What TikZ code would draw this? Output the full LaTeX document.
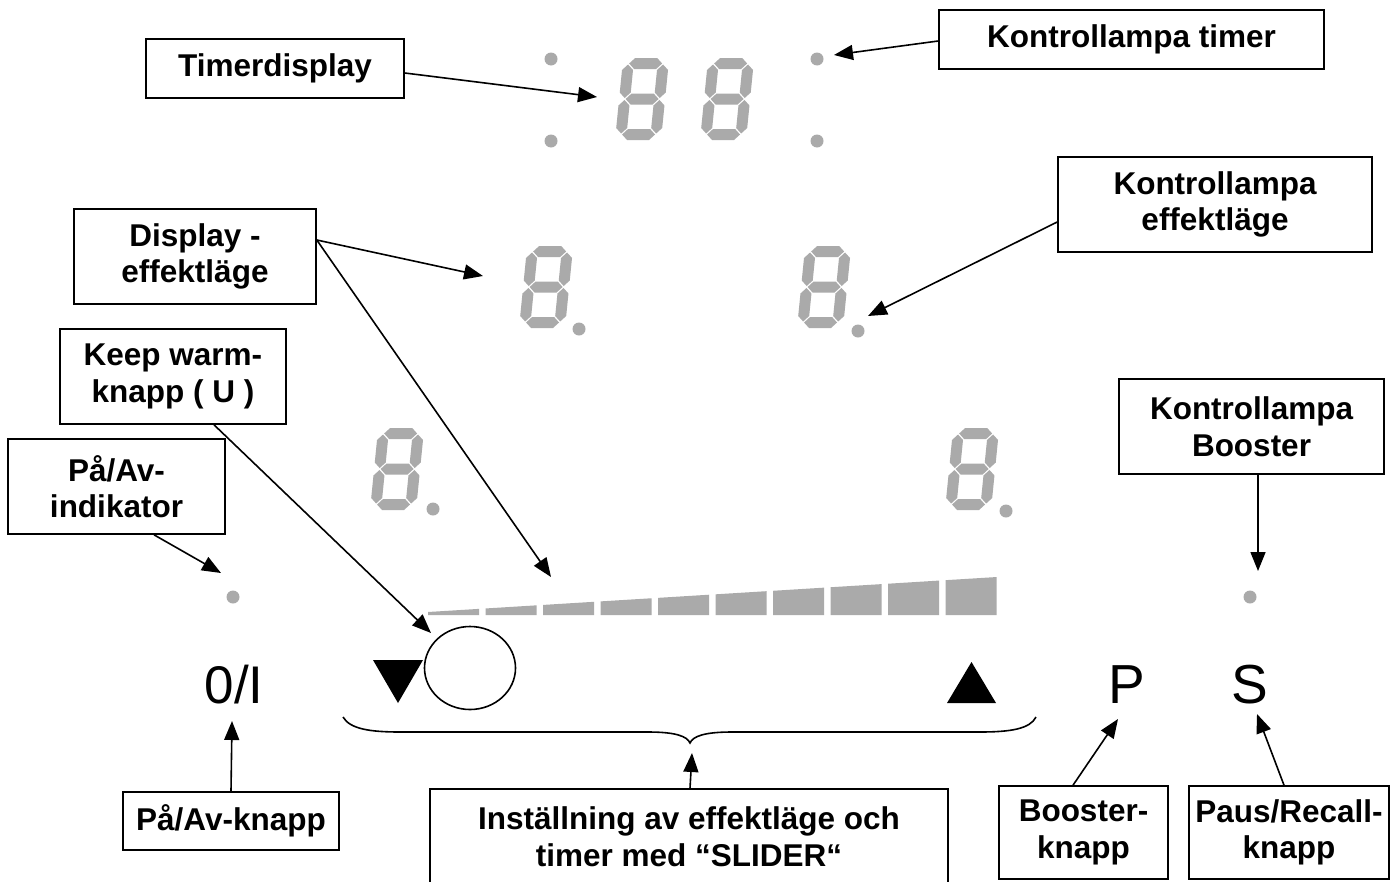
\documentclass[tikz,border=0pt]{standalone}
\usepackage{fontspec}
\setmainfont{Liberation Sans}
\usetikzlibrary{arrows.meta,shapes.geometric}
\definecolor{segg}{RGB}{170,170,170}
\tikzset{
 lbl/.style={draw, line width=1.6pt, rectangle, inner sep=0pt, align=center,
   font=\bfseries\fontsize{31.5}{36.5}\selectfont},
 arr/.style={line width=1.6pt, -{Triangle[length=19pt,width=15pt]}},
 dot/.style={circle, fill=segg, inner sep=0pt, minimum size=13pt},
 bigsym/.style={font=\fontsize{55}{60}\selectfont, inner sep=0pt, anchor=base},
 seg/.style={fill=segg},
}
\newcommand\segdigit[2]{%
\begin{scope}[shift={(#1,#2)},xslant=0.1,yscale=-1]
 \fill[seg] (6.5,5.5)--(12,11)--(34,11)--(39.5,5.5)--(34,0)--(12,0)--cycle;
 \fill[seg] (6.5,41)--(12,46.5)--(34,46.5)--(39.5,41)--(34,35.5)--(12,35.5)--cycle;
 \fill[seg] (6.5,76.5)--(12,82)--(34,82)--(39.5,76.5)--(34,71)--(12,71)--cycle;
 \fill[seg] (5.5,6.5)--(11,12)--(11,34.5)--(5.5,40)--(0,34.5)--(0,12)--cycle;
 \fill[seg] (5.5,42)--(11,47.5)--(11,70)--(5.5,75.5)--(0,70)--(0,47.5)--cycle;
 \fill[seg] (40.5,6.5)--(46,12)--(46,34.5)--(40.5,40)--(35,34.5)--(35,12)--cycle;
 \fill[seg] (40.5,42)--(46,47.5)--(46,70)--(40.5,75.5)--(35,70)--(35,47.5)--cycle;
\end{scope}}
\begin{document}
\begin{tikzpicture}[x=1pt,y=-1pt]
\useasboundingbox (0,0) rectangle (1396,881);
\clip (0,0) rectangle (1396,881);
\fill[white] (0,0) rectangle (1396,881);

% seven-segment digits
\segdigit{615}{140}
\segdigit{700}{140}
\segdigit{519}{328}
\segdigit{797}{328}
\segdigit{370}{510}
\segdigit{945}{510}

% dots
\node[dot] (c1) at (551,59) {};
\node[dot] (c2) at (551,141) {};
\node[dot] (lt1) at (817,59) {};
\node[dot] (lt2) at (817,141) {};
\node[dot] (dp1) at (579,329) {};
\node[dot] (dp2) at (858,331) {};
\node[dot] (dp3) at (433,509) {};
\node[dot] (dp4) at (1006,511) {};
\node[dot] (ind) at (233,597) {};
\node[dot] (bl) at (1250,597) {};

% slider bars
\foreach \i in {0,...,9}{
 \pgfmathsetmacro\xl{428+57.5*\i}
 \pgfmathsetmacro\xr{\xl+51}
 \pgfmathsetmacro\tl{612-(\xl-428)/569*35}
 \pgfmathsetmacro\tr{612-(\xr-428)/569*35}
 \fill[seg] (\xl,615) -- (\xl,\tl) -- (\xr,\tr) -- (\xr,615) -- cycle;
}

% symbols
\fill (373,660) -- (423,660) -- (398,703) -- cycle;
\fill (947,703) -- (996,703) -- (971.5,662) -- cycle;
\node[draw, ellipse, line width=1.6pt, minimum width=91pt, minimum height=83pt, inner sep=0pt] (kw) at (470,668) {};
\node[bigsym, font=\fontsize{53}{58}\selectfont] (onoff) at (234,703) {0/I};
\node[bigsym] (psym) at (1126.5,703) {P};
\node[bigsym] (ssym) at (1250,703) {S};

% brace
\draw[line width=1.6pt] (343,717) .. controls (350,729) and (370,732) .. (400,732)
  -- (648,732) .. controls (675,732) and (687,736) .. (690,743)
  .. controls (693,736) and (705,732) .. (732,732) -- (980,732)
  .. controls (1010,732) and (1030,729) .. (1036,717);
\coordinate (brace) at (692,753);

% labels
\node[lbl, minimum width=258pt, minimum height=59pt] (tdisp) at (275,68.5) {\raisebox{-2pt}{Timerdisplay}};
\node[lbl, minimum width=385pt, minimum height=59pt] (ktimer) at (1131.5,39.5) {\raisebox{-2pt}{Kontrollampa timer}};
\node[lbl, minimum width=242pt, minimum height=95pt] (disp) at (195,256.5) {Display -\\effektläge};
\node[lbl, minimum width=226pt, minimum height=95pt] (keep) at (173,376.5) {Keep warm-\\knapp ( U )};
\node[lbl, minimum width=217pt, minimum height=95pt] (indl) at (116.5,486.5) {På/Av-\\indikator};
\node[lbl, minimum width=314pt, minimum height=95pt] (keff) at (1215,204.5) {Kontrollampa\\effektläge};
\node[lbl, minimum width=265pt, minimum height=95pt] (kboost) at (1251.5,426.5) {Kontrollampa\\Booster};
\node[lbl, minimum width=216pt, minimum height=58pt] (onoffl) at (231,821) {\raisebox{-2pt}{På/Av-knapp}};
\node[lbl, minimum width=518pt, minimum height=95pt] (slider) at (689,836.5) {Inställning av effektläge och\\timer med “SLIDER“};
\node[lbl, minimum width=169pt, minimum height=93pt] (bknapp) at (1083.5,832.5) {Booster-\\knapp};
\node[lbl, minimum width=200pt, minimum height=93pt] (paus) at (1289,832.5) {Paus/Recall-\\knapp};

% arrow tips
\coordinate (tTD) at (597,97);
\coordinate (tKT) at (834,55);
\coordinate (tD1) at (483,276);
\coordinate (tD2) at (551,577);
\coordinate (tKW) at (431,633);
\coordinate (tIND) at (221,573);
\coordinate (tKE) at (868,316);
\coordinate (tKB) at (1258,571);
\coordinate (tON) at (232,721);
\coordinate (tP) at (1118,719);
\coordinate (tS) at (1257,714);

% connectors
\draw[arr] ([yshift=-4.5pt]tdisp.east) -- (tTD);
\draw[arr] ([yshift=-1.5pt]ktimer.west) -- (tKT);
\draw[arr] ([yshift=16.5pt]disp.east) -- (tD1);
\draw[arr] ([yshift=16.5pt]disp.east) -- (tD2);
\draw[arr] ([xshift=41pt]keep.south) -- (tKW);
\draw[arr] ([xshift=37.5pt]indl.south) -- (tIND);
\draw[arr] ([yshift=-17.5pt]keff.west) -- (tKE);
\draw[arr] ([xshift=6.5pt]kboost.south) -- (tKB);
\draw[arr] (onoffl.north) -- (tON);
\draw[arr] ([xshift=-10.5pt]bknapp.north) -- (tP);
\draw[arr] ([xshift=-5pt]paus.north) -- (tS);
\draw[arr] ([xshift=1pt]slider.north) -- (brace);
\end{tikzpicture}
\end{document}
